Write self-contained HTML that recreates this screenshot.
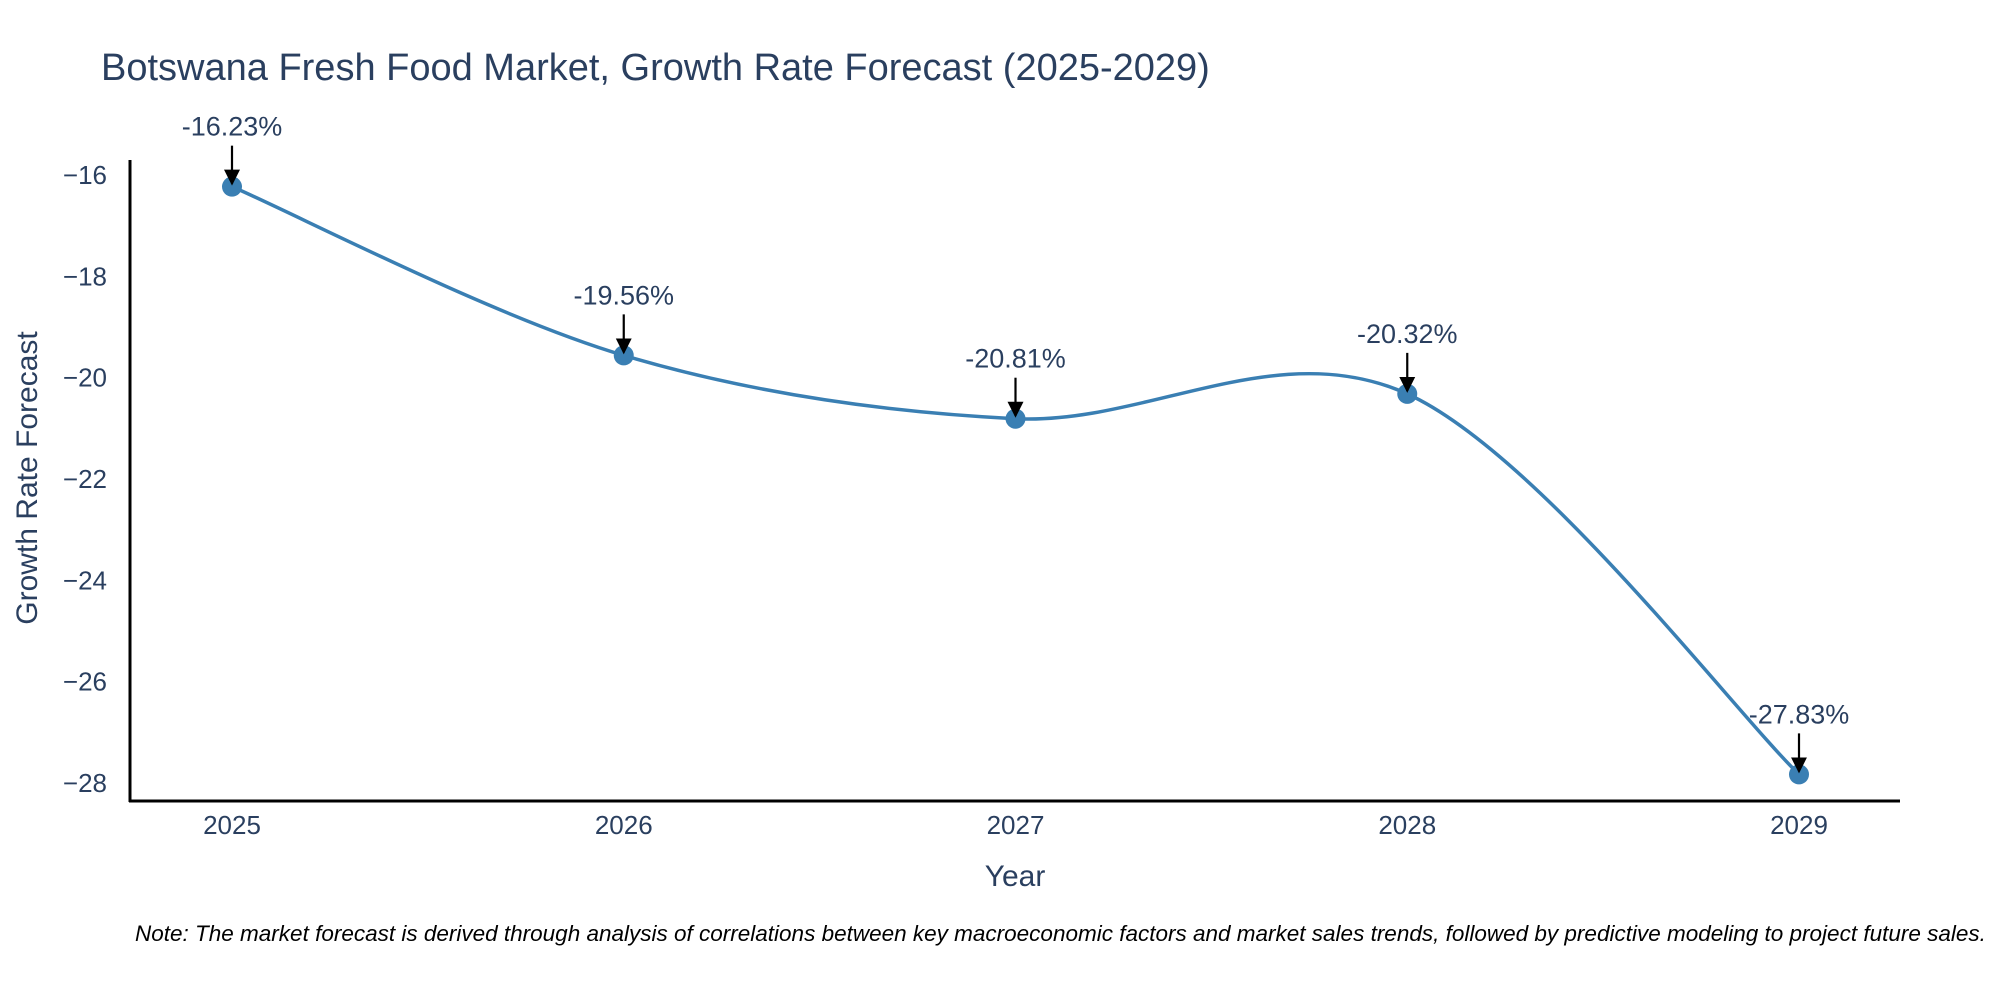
<!DOCTYPE html>
<html><head><meta charset="utf-8"><style>
body{margin:0;background:#fff;}
svg{display:block;font-family:"Liberation Sans","DejaVu Sans",sans-serif;}
</style></head><body>
<svg id="chart" width="2000" height="1000">
<text x="101" y="80" font-size="38" fill="#2a3f5f">Botswana Fresh Food Market, Growth Rate Forecast (2025-2029)</text>
<g id="yticks"></g>
<g id="xticks"></g>
<line x1="130" y1="160" x2="130" y2="802" stroke="#000" stroke-width="3"/>
<line x1="129" y1="801" x2="1900" y2="801" stroke="#000" stroke-width="3"/>
<g id="series"></g>
<text x="0" y="0" transform="translate(37,478) rotate(-90)" text-anchor="middle" font-size="30" fill="#2a3f5f">Growth Rate Forecast</text>
<text x="1015" y="886" text-anchor="middle" font-size="30" fill="#2a3f5f">Year</text>
<text x="135" y="941" font-size="22.5" font-style="italic" fill="#000">Note: The market forecast is derived through analysis of correlations between key macroeconomic factors and market sales trends, followed by predictive modeling to project future sales.</text>
</svg>
<script>
const years=["2025","2026","2027","2028","2029"];
const values=[-16.23,-19.56,-20.81,-20.32,-27.83];
const yTicks=[-16,-18,-20,-22,-24,-26,-28];
const NS="http://www.w3.org/2000/svg";
function X(i){return 232+i*(1799-232)/4;}
function Y(v){return 175+(v+16)*(783-175)/(-12);}
function mk(t,a,p){const e=document.createElementNS(NS,t);for(const k in a)e.setAttribute(k,a[k]);p.appendChild(e);return e;}
const yg=document.getElementById('yticks'),xg=document.getElementById('xticks'),sg=document.getElementById('series');
yTicks.forEach(v=>{const t=mk('text',{x:107,y:Y(v)+9,'text-anchor':'end','font-size':26,fill:'#2a3f5f'},yg);t.textContent=(v<0?'\u2212':'')+Math.abs(v);

});
years.forEach((y,i)=>{const t=mk('text',{x:X(i),y:834,'text-anchor':'middle','font-size':26,fill:'#2a3f5f'},xg);t.textContent=y;

});
const P=values.map((v,i)=>[X(i),Y(v)]);
let d='M'+P[0][0]+','+P[0][1];
for(let i=0;i<P.length-1;i++){const p0=P[Math.max(i-1,0)],p1=P[i],p2=P[i+1],p3=P[Math.min(i+2,P.length-1)];const s=6;
d+=' C'+(p1[0]+(p2[0]-p0[0])/s)+','+(p1[1]+(p2[1]-p0[1])/s)+' '+(p2[0]-(p3[0]-p1[0])/s)+','+(p2[1]-(p3[1]-p1[1])/s)+' '+p2[0]+','+p2[1];}
const path=mk('path',{d:d,fill:'none',stroke:'#3a7fb3','stroke-width':3.5},sg);


mk('defs',{},sg).innerHTML='<marker id="ah" markerWidth="8" markerHeight="8" refX="6" refY="4" orient="auto" markerUnits="userSpaceOnUse"><path d="M0,0 L8,4 L0,8 Z" fill="#000"/></marker>';
mk('defs',{},sg).innerHTML='<marker id="ah2" markerWidth="18" markerHeight="18" refX="14" refY="9" orient="auto" markerUnits="userSpaceOnUse"><path d="M0,1 L16,9 L0,17 Z" fill="#000"/></marker>';
values.forEach((v,i)=>{const c=mk('circle',{cx:X(i),cy:Y(v),r:10,fill:'#3a7fb3'},sg);


const a=mk('line',{x1:X(i),y1:Y(v)-41,x2:X(i),y2:Y(v)-3,stroke:'#000','stroke-width':2.2,'marker-end':'url(#ah2)'},sg);


const t=mk('text',{x:X(i),y:Y(v)-51,'text-anchor':'middle','font-size':27,fill:'#2a3f5f'},sg);t.textContent=v.toFixed(2)+'%';

});
</script>
</body></html>
